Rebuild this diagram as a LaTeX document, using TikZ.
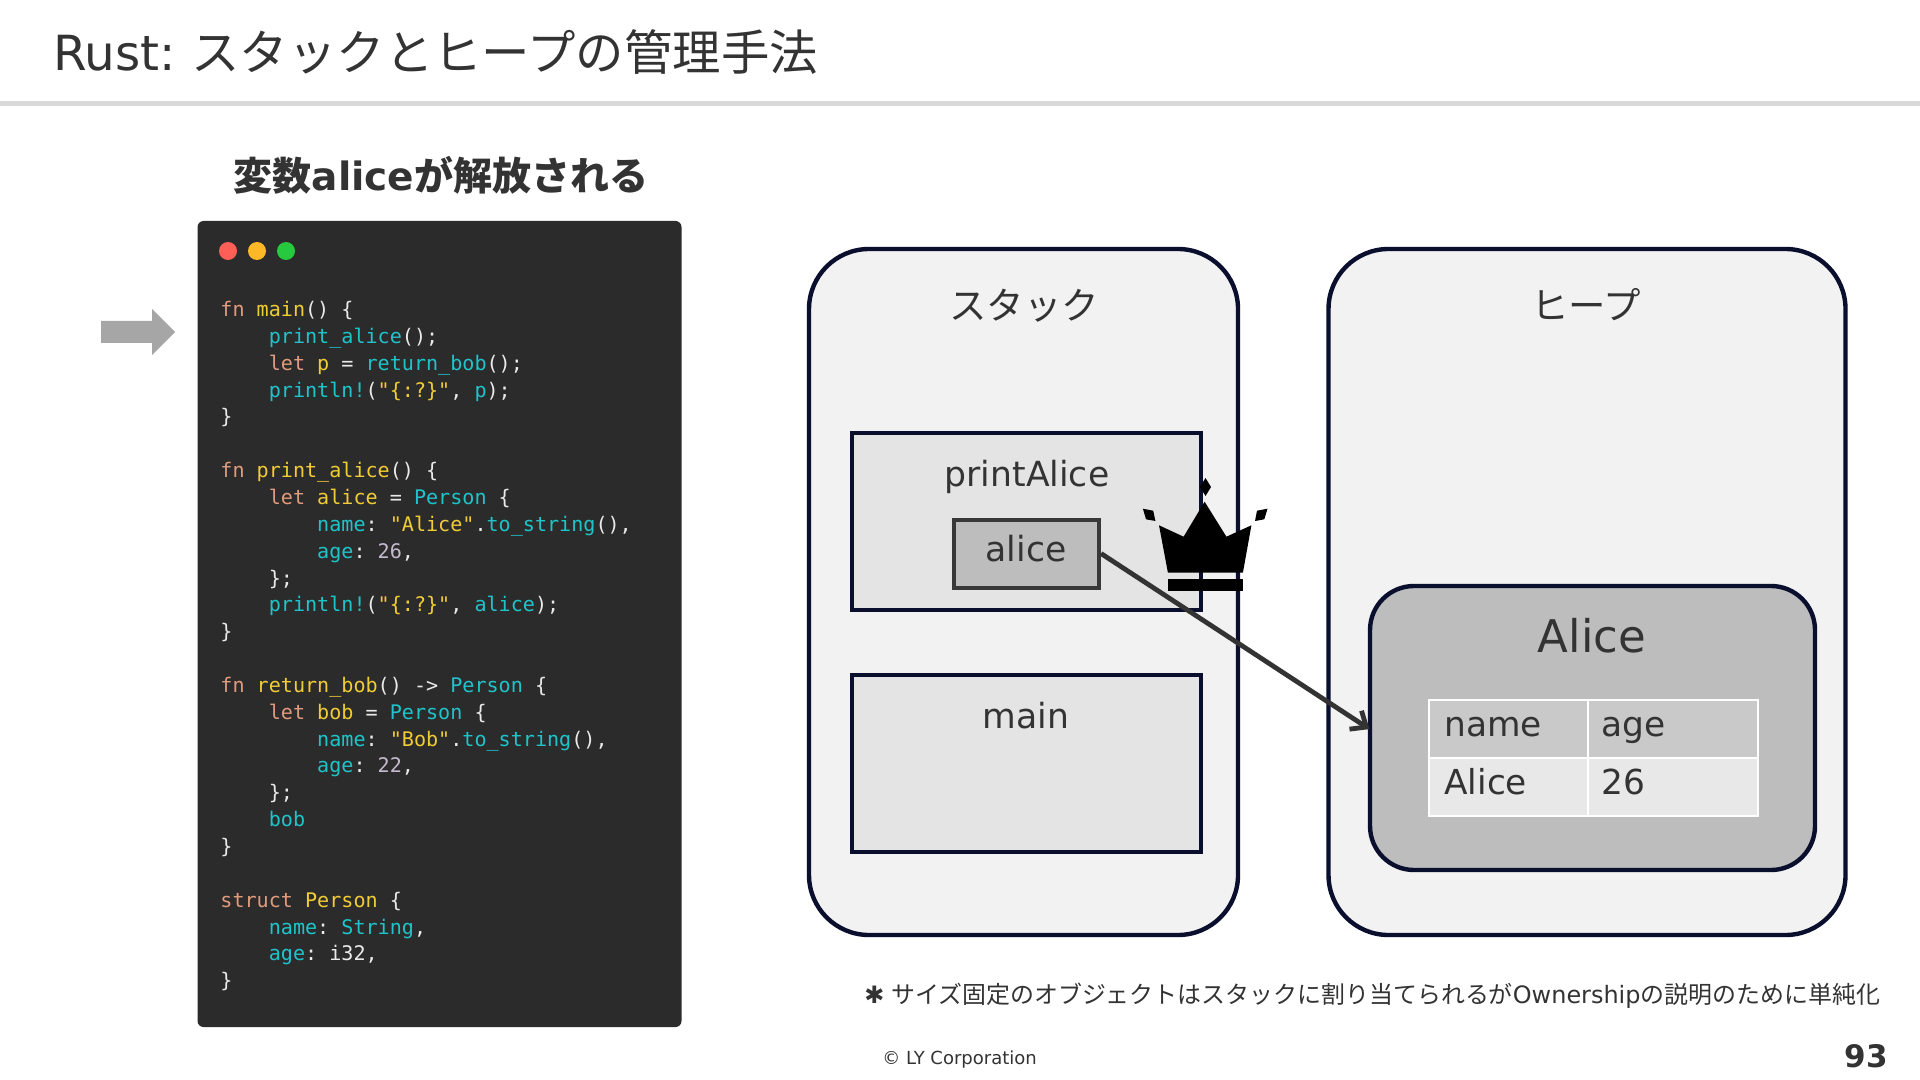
\documentclass[tikz,border=0pt]{standalone}
\usepackage{fontspec}
\setmainfont{DejaVu Sans}
\setmonofont{DejaVu Sans Mono}
\newfontfamily\cjk{Noto Sans CJK JP}
\usepackage{xcolor}
\usepackage{tikz}
\usetikzlibrary{arrows.meta}
\definecolor{inktext}{HTML}{333333}
\definecolor{navyline}{HTML}{0A0F2E}
\definecolor{codebg}{HTML}{2B2B2B}
\definecolor{codekw}{HTML}{E09A7C}
\definecolor{codeyl}{HTML}{F0CC35}
\definecolor{codecy}{HTML}{1FC4CB}
\definecolor{codenm}{HTML}{C6BACE}
\definecolor{codewh}{HTML}{EAEAEA}
\newcommand{\ckw}[1]{\textcolor{codekw}{#1}}
\newcommand{\cyl}[1]{\textcolor{codeyl}{#1}}
\newcommand{\ccy}[1]{\textcolor{codecy}{#1}}
\newcommand{\cnm}[1]{\textcolor{codenm}{#1}}
\tikzset{
  region/.style={draw=navyline,fill=black!5,line width=2.2pt,rounded corners=30pt,minimum height=343pt},
  framebox/.style={draw=navyline,fill=black!10.5,line width=2pt,minimum width=174.5pt,minimum height=88.5pt},
  lbl/.style={text=inktext,font=\fontsize{17.3}{20}\selectfont,anchor=base},
  tcell/.style={draw=white,line width=1pt,anchor=north west,minimum height=29pt,inner sep=0pt},
  tlbl/.style={text=inktext,font=\fontsize{17.2}{20}\selectfont,anchor=base west,inner sep=0pt},
  codeline/.style={text=codewh,font=\ttfamily\fontsize{10.05}{12}\selectfont,anchor=base west,inner sep=0pt},
  dot/.style={circle,minimum size=9pt,inner sep=0pt},
  arr/.style={-{Straight Barb[length=6.5pt,width=11pt]},line width=2.4pt,draw=inktext,shorten >=-1pt},
}
\begin{document}
\begin{tikzpicture}[x=0.5pt,y=-0.5pt]
\useasboundingbox[fill=white] (0,0) rectangle (1920,1080);
\draw[black!15,line width=2.5pt] (0,104) -- (1920,104);
\node[text=inktext,font=\fontsize{24.2}{28}\selectfont,anchor=base west,inner sep=0pt] (title) at (53,71) {Rust:\hspace{0.32em}{\cjk スタックとヒープの管理手法}};
\node[text=inktext,font=\fontsize{19.5}{24}\selectfont\bfseries,anchor=base,inner sep=0pt] (subtitle) at (441,191) {{\cjk 変数}alice{\cjk が解放される}};
\fill[black!35] (101,321) -- (152,321) -- (152,309) -- (175,332) -- (152,355) -- (152,343) -- (101,343) -- cycle;
\node[fill=codebg,rounded corners=3pt,minimum width=242pt,minimum height=403pt,inner sep=0pt] (panel) at (439.5,624) {};
\foreach \n/\x/\c in {red/228/FF5F57,amber/257/FDB827,green/286/27C93F} {
  \definecolor{dotcol}{HTML}{\c}
  \node[dot,fill=dotcol] (dot\n) at (\x,251) {};}
\foreach \y/\x/\txt in {
  1/0/{\ckw{fn} \cyl{main}() \{},
  2/4/{\ccy{print\_alice}();},
  3/4/{\ckw{let} \cyl{p} = \ccy{return\_bob}();},
  4/4/{\ccy{println!}(\cyl{"\{:?\}"}, \ccy{p});},
  5/0/{\}},
  7/0/{\ckw{fn} \cyl{print\_alice}() \{},
  8/4/{\ckw{let} \cyl{alice} = \ccy{Person} \{},
  9/8/{\ccy{name}: \cyl{"Alice"}.\ccy{to\_string}(),},
  10/8/{\ccy{age}: \cnm{26},},
  11/4/{\};},
  12/4/{\ccy{println!}(\cyl{"\{:?\}"}, \ccy{alice});},
  13/0/{\}},
  15/0/{\ckw{fn} \cyl{return\_bob}() -> \ccy{Person} \{},
  16/4/{\ckw{let} \cyl{bob} = \ccy{Person} \{},
  17/8/{\ccy{name}: \cyl{"Bob"}.\ccy{to\_string}(),},
  18/8/{\ccy{age}: \cnm{22},},
  19/4/{\};},
  20/4/{\ccy{bob}},
  21/0/{\}},
  23/0/{\ckw{struct} \cyl{Person} \{},
  24/4/{\ccy{name}: \ccy{String},},
  25/4/{\ccy{age}: i32,},
  26/0/{\}}} {
  \node[codeline] (code\y) at (220+12.1*\x,316.5+26.85*\y-26.85) {\txt};}
\node[region,minimum width=214.5pt] (stack) at (1023.5,592) {};
\node[region,minimum width=258.5pt] (heap) at (1587,592) {};
\node[lbl,font=\fontsize{18.7}{22}\selectfont] (stacklbl) at (1024,320) {\cjk スタック};
\node[lbl,font=\fontsize{18.7}{22}\selectfont] (heaplbl) at (1586,320) {\cjk ヒープ};
\node[framebox] (frameprint) at (1026.5,521.5) {};
\node[framebox] (framemain) at (1026.5,763) {};
\node[lbl] (printlbl) at (1027,486) {printAlice};
\node[lbl] (mainlbl) at (1026,728) {main};
\node[draw=black!78,fill=black!26,line width=2pt,minimum width=72.5pt,minimum height=34pt] (varalice) at (1026.5,553.5) {};
\node[lbl] (varlbl) at (1026,561) {alice};
\node[draw=navyline,fill=black!26,line width=2.2pt,rounded corners=22pt,minimum width=222.5pt,minimum height=142pt] (heapalice) at (1592.5,728) {};
\node[lbl,font=\fontsize{22.5}{26}\selectfont] (heapalicelbl) at (1592,652) {Alice};
\node[tcell,fill=black!21,minimum width=79.5pt] (cellname) at (1428,699) {};
\node[tcell,fill=black!21,minimum width=85pt] (cellage) at (1587,699) {};
\node[tcell,fill=black!9,minimum width=79.5pt] (cellalice) at (1428,757) {};
\node[tcell,fill=black!9,minimum width=85pt] (cellnum) at (1587,757) {};
\node[tlbl] (namelbl) at (1444,736) {name};
\node[tlbl] (agelbl) at (1601,736) {age};
\node[tlbl] (alicelbl) at (1444,794) {Alice};
\node[tlbl] (numlbl) at (1601,794) {26};
\fill[black] (1204.6,501.7) -- (1226.4,536.7) -- (1251.4,525.3) -- (1242.9,572.7) -- (1167.9,572.7) -- (1159,525.3) -- (1183.6,536.7) -- cycle;
\fill[black] (1168,579) rectangle (1243,591);
\fill[black] (1205.5,478) -- (1211,487) -- (1205.5,496) -- (1200,487) -- cycle;
\fill[black] (1142.9,508.7) -- (1153.2,510.7) -- (1155.4,521) -- (1146,519.3) -- cycle;
\fill[black] (1267.5,508.7) -- (1257,510.7) -- (1255,521) -- (1264.3,519.3) -- cycle;
\draw[arr] (varalice.east) -- (heapalice.west);
\node[text=inktext,font=\fontsize{11.97}{14}\selectfont,anchor=base west,inner sep=0pt] (note) at (864,1003) {✱\hspace{0.28em}{\cjk サイズ固定のオブジェクトはスタックに割り当てられるが}Ownership{\cjk の説明のために単純化}};
\node[text=inktext,font=\fontsize{9}{11}\selectfont,anchor=base west,inner sep=0pt] (copyright) at (882,1064) {© LY Corporation};
\node[text=inktext,font=\fontsize{15.5}{18}\selectfont\bfseries,anchor=base east,inner sep=0pt] (pageno) at (1888,1067) {93};
\end{tikzpicture}
\end{document}
